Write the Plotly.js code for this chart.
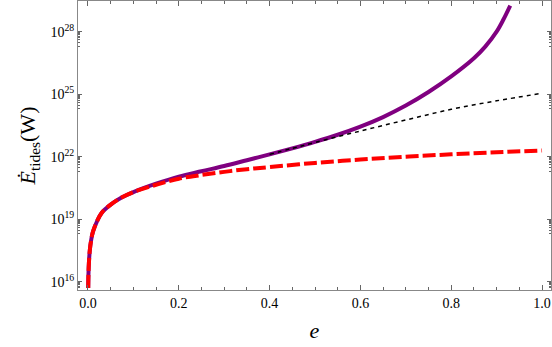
<!DOCTYPE html>
<html>
<head>
<meta charset="utf-8">
<script src="https://cdn.plot.ly/plotly-3.0.1.min.js"></script>
<style>html,body{margin:0;padding:0;background:#fff;}#plot{width:552px;height:347px;}</style>
</head>
<body>
<div id="plot"></div>
<script>
// Eccentricity values and log10 of tidal power (W)
var eFull = [0.0005, 0.001, 0.002, 0.004, 0.007, 0.011, 0.02, 0.03, 0.05, 0.075, 0.1, 0.15, 0.2, 0.25, 0.3, 0.35, 0.4, 0.45, 0.5, 0.55, 0.6, 0.65, 0.7, 0.75, 0.8, 0.85, 0.875, 0.9, 0.915, 0.93];
var purpleLog10 = [15.70, 16.3, 16.9, 17.5, 18.0, 18.4, 18.9, 19.3, 19.7, 20.05, 20.3, 20.70, 21.04, 21.30, 21.55, 21.83, 22.11, 22.40, 22.71, 23.05, 23.44, 23.90, 24.45, 25.10, 25.85, 26.72, 27.28, 28.00, 28.58, 29.25];

var eRed = [0.0005, 0.001, 0.002, 0.004, 0.007, 0.011, 0.02, 0.03, 0.05, 0.075, 0.1, 0.15, 0.2, 0.25, 0.3, 0.35, 0.4, 0.5, 0.6, 0.7, 0.8, 0.9, 1.0];
var redLog10 = [15.70, 16.3, 16.9, 17.5, 18.0, 18.4, 18.9, 19.3, 19.7, 20.05, 20.3, 20.65, 20.94, 21.12, 21.27, 21.40, 21.50, 21.70, 21.86, 22.00, 22.11, 22.21, 22.29];

var eBlack = [0.4, 0.45, 0.5, 0.6, 0.7, 0.8, 0.9, 1.0];
var blackLog10 = [22.11, 22.40, 22.68, 23.23, 23.76, 24.27, 24.68, 25.04];

var yMajorExp = [16, 19, 22, 25, 28];
var xTickVals = [0.0, 0.2, 0.4, 0.6, 0.8, 1.0];
var xTickText = ['0.0', '0.2', '0.4', '0.6', '0.8', '1.0'];

function pow10(a) { return a.map(function (v) { return Math.pow(10, v); }); }

var yTickVals = yMajorExp.map(function (p) { return Math.pow(10, p); });
var yTickText = yMajorExp.map(function (p) { return '10<sup>' + p + '</sup>'; });
var yMinorVals = [];
yMajorExp.forEach(function (p) {
  for (var k = 2; k <= 9; k++) yMinorVals.push(k * Math.pow(10, p - 1));
});

var traces = [
  { x: eFull, y: pow10(purpleLog10), mode: 'lines', line: { color: '#800080', width: 4, shape: 'spline' }, hoverinfo: 'skip' },
  { x: eRed, y: pow10(redLog10), mode: 'lines', line: { color: '#ff0000', width: 4, dash: '13px,4px', shape: 'spline' }, hoverinfo: 'skip' },
  { x: eBlack, y: pow10(blackLog10), mode: 'lines', line: { color: '#000000', width: 1.5, dash: '4px,4px', shape: 'spline' }, hoverinfo: 'skip' }
];

var serif = 'Liberation Serif';
var layout = {
  width: 552, height: 347,
  margin: { l: 78, r: 1, t: 1, b: 57 },
  paper_bgcolor: '#fff', plot_bgcolor: '#fff',
  showlegend: false,
  font: { family: serif, size: 14, color: '#000' },
  xaxis: {
    range: [-0.022, 1.0198],
    tickmode: 'array', tickvals: xTickVals, ticktext: xTickText,
    ticks: 'inside', ticklen: 5, tickwidth: 1, tickcolor: '#666',
    minor: { tickmode: 'linear', tick0: 0, dtick: 0.05, ticks: 'inside', ticklen: 3, tickcolor: '#666', showgrid: false },
    showline: true, linecolor: '#888', linewidth: 1, mirror: 'ticks',
    showgrid: false, zeroline: false,
    tickfont: { family: serif, size: 14, color: '#000' },
    title: { text: '<i>e</i>', font: { family: serif, size: 22, color: '#000' }, standoff: 12 }
  },
  yaxis: {
    type: 'log',
    range: [15.60, 29.47],
    tickmode: 'array', tickvals: yTickVals, ticktext: yTickText,
    ticks: 'inside', ticklen: 4, tickwidth: 1, tickcolor: '#666',
    minor: { tickmode: 'array', tickvals: yMinorVals, ticks: 'inside', ticklen: 2, tickcolor: '#666', showgrid: false },
    showline: true, linecolor: '#888', linewidth: 1, mirror: 'ticks',
    showgrid: false, zeroline: false,
    tickfont: { family: serif, size: 14, color: '#000' },
    title: { text: '<i>Ė</i><sub>tides</sub>(W)', font: { family: serif, size: 22, color: '#000' }, standoff: 8 }
  }
};

Plotly.newPlot('plot', traces, layout, { staticPlot: true, displayModeBar: false });
</script>
</body>
</html>
